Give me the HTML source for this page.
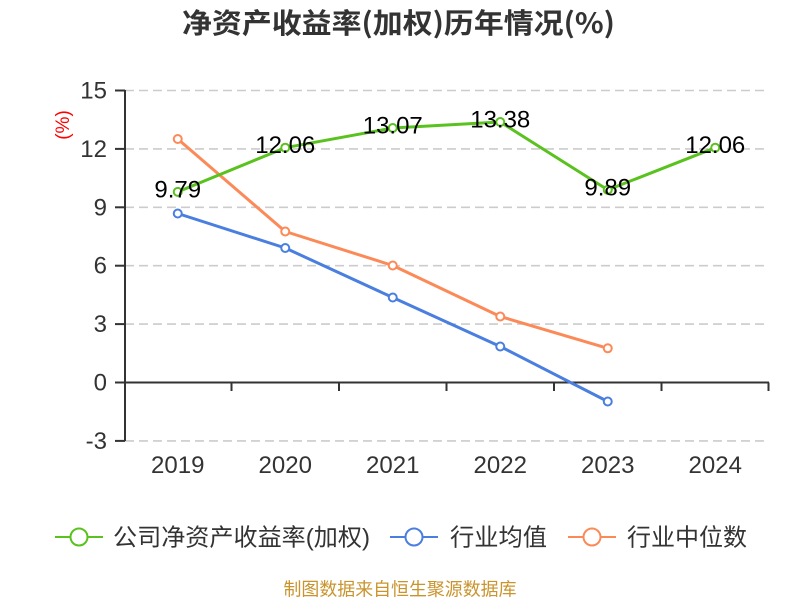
<!DOCTYPE html>
<html>
<head>
<meta charset="utf-8">
<style>
  html,body{margin:0;padding:0;background:#fff;}
  svg{display:block;}
  text{font-family:"Liberation Sans","Noto Sans CJK SC",sans-serif;}
</style>
</head>
<body>
<svg width="800" height="600" viewBox="0 0 800 600" xmlns="http://www.w3.org/2000/svg">
  <rect width="800" height="600" fill="#fff"/>
  <!-- Title -->
  <text x="182" y="33" font-size="28" font-weight="bold" fill="#333" textLength="433" lengthAdjust="spacingAndGlyphs" style="font-family:'Noto Sans CJK SC','Liberation Sans',sans-serif;">净资产收益率(加权)历年情况(%)</text>

  <!-- Y axis name -->
  <text transform="translate(69,125) rotate(-90)" text-anchor="middle" font-size="19" fill="#ff0000">(%)</text>

  <!-- Grid lines -->
  <g stroke="#cccccc" stroke-width="1.6" stroke-dasharray="9 5" fill="none">
    <line x1="125" y1="90.5" x2="769" y2="90.5"/>
    <line x1="125" y1="148.9" x2="769" y2="148.9"/>
    <line x1="125" y1="207.3" x2="769" y2="207.3"/>
    <line x1="125" y1="265.7" x2="769" y2="265.7"/>
    <line x1="125" y1="324.1" x2="769" y2="324.1"/>
    <line x1="125" y1="440.9" x2="769" y2="440.9"/>
  </g>

  <!-- Y axis -->
  <g stroke="#333" stroke-width="2" fill="none">
    <line x1="125" y1="90" x2="125" y2="441"/>
    <line x1="115" y1="90.5" x2="125" y2="90.5"/>
    <line x1="115" y1="148.9" x2="125" y2="148.9"/>
    <line x1="115" y1="207.3" x2="125" y2="207.3"/>
    <line x1="115" y1="265.7" x2="125" y2="265.7"/>
    <line x1="115" y1="324.1" x2="125" y2="324.1"/>
    <line x1="115" y1="382.5" x2="125" y2="382.5"/>
    <line x1="115" y1="440.9" x2="125" y2="440.9"/>
  </g>
  <!-- X axis -->
  <g stroke="#333" stroke-width="2" fill="none">
    <line x1="124" y1="382.5" x2="769" y2="382.5"/>
    <line x1="231.5" y1="382.5" x2="231.5" y2="391"/>
    <line x1="339" y1="382.5" x2="339" y2="391"/>
    <line x1="446.5" y1="382.5" x2="446.5" y2="391"/>
    <line x1="554" y1="382.5" x2="554" y2="391"/>
    <line x1="661.5" y1="382.5" x2="661.5" y2="391"/>
    <line x1="768.5" y1="382.5" x2="768.5" y2="391"/>
  </g>

  <!-- Y tick labels -->
  <g font-size="24" fill="#333" text-anchor="end">
    <text x="107" y="98.5">15</text>
    <text x="107" y="156.9">12</text>
    <text x="107" y="215.3">9</text>
    <text x="107" y="273.7">6</text>
    <text x="107" y="332.1">3</text>
    <text x="107" y="390.5">0</text>
    <text x="107" y="448.9">-3</text>
  </g>
  <!-- X tick labels -->
  <g font-size="24" fill="#333" text-anchor="middle">
    <text x="177.75" y="473">2019</text>
    <text x="285.25" y="473">2020</text>
    <text x="392.75" y="473">2021</text>
    <text x="500.25" y="473">2022</text>
    <text x="607.75" y="473">2023</text>
    <text x="715.25" y="473">2024</text>
  </g>

  <!-- Industry median (orange) -->
  <polyline fill="none" stroke="#fc8a58" stroke-width="3" stroke-linejoin="round"
    points="177.75,139 285.25,231.5 392.75,265.5 500.25,316.5 607.75,348.3"/>
  <!-- Industry average (blue) -->
  <polyline fill="none" stroke="#4a7fe0" stroke-width="3" stroke-linejoin="round"
    points="177.75,213.5 285.25,248 392.75,297.5 500.25,346.5 607.75,401.5"/>
  <!-- Company (green) -->
  <polyline fill="none" stroke="#5ac21e" stroke-width="3" stroke-linejoin="round"
    points="177.75,191.9 285.25,147.7 392.75,128 500.25,122 607.75,189.9 715.25,147.7"/>

  <!-- Symbols -->
  <g fill="#fff" stroke="#fc8a58" stroke-width="2">
    <circle cx="177.75" cy="139" r="4"/>
    <circle cx="285.25" cy="231.5" r="4"/>
    <circle cx="392.75" cy="265.5" r="4"/>
    <circle cx="500.25" cy="316.5" r="4"/>
    <circle cx="607.75" cy="348.3" r="4"/>
  </g>
  <g fill="#fff" stroke="#4a7fe0" stroke-width="2">
    <circle cx="177.75" cy="213.5" r="4"/>
    <circle cx="285.25" cy="248" r="4"/>
    <circle cx="392.75" cy="297.5" r="4"/>
    <circle cx="500.25" cy="346.5" r="4"/>
    <circle cx="607.75" cy="401.5" r="4"/>
  </g>
  <g fill="#fff" stroke="#5ac21e" stroke-width="2">
    <circle cx="177.75" cy="191.9" r="4"/>
    <circle cx="285.25" cy="147.7" r="4"/>
    <circle cx="392.75" cy="128" r="4"/>
    <circle cx="500.25" cy="122" r="4"/>
    <circle cx="607.75" cy="189.9" r="4"/>
    <circle cx="715.25" cy="147.7" r="4"/>
  </g>

  <!-- Data labels -->
  <g font-size="24" fill="#000" text-anchor="middle">
    <text x="177.75" y="197.5">9.79</text>
    <text x="285.25" y="153">12.06</text>
    <text x="392.75" y="133.5">13.07</text>
    <text x="500.25" y="127.5">13.38</text>
    <text x="607.75" y="195.5">9.89</text>
    <text x="715.25" y="153">12.06</text>
  </g>

  <!-- Legend -->
  <g stroke-width="2" fill="#fff">
    <line x1="55" y1="537" x2="103" y2="537" stroke="#5ac21e"/>
    <circle cx="79" cy="537" r="8.5" stroke="#5ac21e"/>
    <line x1="390" y1="537" x2="438" y2="537" stroke="#4a7fe0"/>
    <circle cx="414" cy="537" r="8.5" stroke="#4a7fe0"/>
    <line x1="568" y1="537" x2="616" y2="537" stroke="#fc8a58"/>
    <circle cx="592" cy="537" r="8.5" stroke="#fc8a58"/>
  </g>
  <g font-size="24" fill="#333" style="font-family:'Noto Sans CJK SC','Liberation Sans',sans-serif;">
    <text x="113" y="545.5" textLength="257" lengthAdjust="spacingAndGlyphs">公司净资产收益率(加权)</text>
    <text x="450" y="545.5" textLength="97" lengthAdjust="spacingAndGlyphs">行业均值</text>
    <text x="627" y="545.5" textLength="120" lengthAdjust="spacingAndGlyphs">行业中位数</text>
  </g>

  <!-- Footer -->
  <text x="283.5" y="595.5" font-size="18" fill="#c9942e" textLength="233" lengthAdjust="spacingAndGlyphs" style="font-family:'Noto Sans CJK SC','Liberation Sans',sans-serif;">制图数据来自恒生聚源数据库</text>
</svg>
</body>
</html>
